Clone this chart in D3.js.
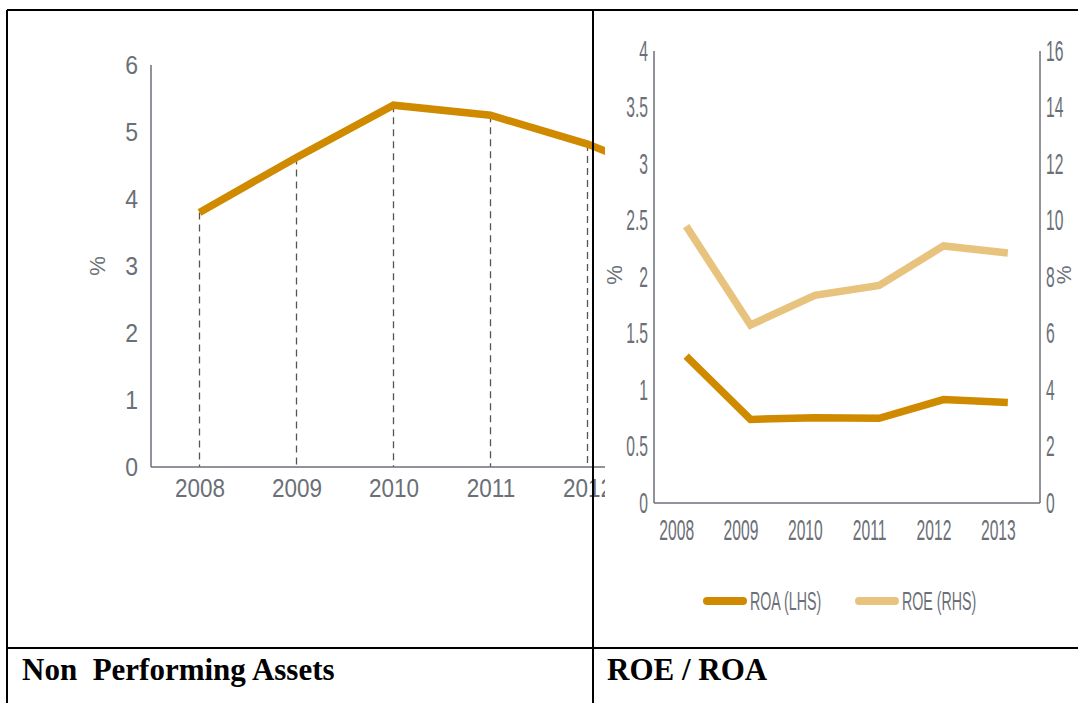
<!DOCTYPE html>
<html>
<head>
<meta charset="utf-8">
<script src="https://cdn.jsdelivr.net/npm/d3@7/dist/d3.min.js"></script>
<style>
  html, body { margin: 0; padding: 0; background: #fff; overflow: hidden; }
  svg { display: block; }
</style>
</head>
<body>
<div id="chart"></div>
<script>
// Data
var npaYears = [2008, 2009, 2010, 2011, 2012, 2013];
var npaValues = [3.8, 4.62, 5.4, 5.25, 4.82, 4.25];
var npaTicks = [0, 1, 2, 3, 4, 5, 6];

var retYears = [2008, 2009, 2010, 2011, 2012, 2013];
var roaValues = [1.3, 0.74, 0.755, 0.75, 0.915, 0.89];
var roeValues = [9.8, 6.3, 7.35, 7.7, 9.1, 8.85];
var roaTicks = [0, 0.5, 1, 1.5, 2, 2.5, 3, 3.5, 4];
var roeTicks = [0, 2, 4, 6, 8, 10, 12, 14, 16];
var legendItems = ["ROA (LHS)", "ROE (RHS)"];
var captions = ["Non  Performing Assets", "ROE / ROA"];

var W = 1078, H = 703;
var gold = "#d08a00", sand = "#e8c37e", grey = "#6b6f77";
var font = "'Liberation Sans', Arial, sans-serif";

var svg = d3.select("#chart").append("svg")
  .attr("width", W)
  .attr("height", H);

// squeeze axis labels sideways to mimic the condensed face
function squeeze(g, sx, size, anchorX) {
  g.selectAll(".domain").remove();
  g.selectAll("text")
    .attr("font-family", font)
    .attr("font-size", size)
    .attr("fill", grey)
    .attr("transform", "scale(" + sx + ",1)");
  if (anchorX !== undefined) g.selectAll("text").attr("x", anchorX / sx);
}

// ---------- left panel: NPA ----------
svg.append("clipPath").attr("id", "leftClip")
  .append("rect").attr("x", 0).attr("y", 0).attr("width", 605).attr("height", 640);

var left = svg.append("g").attr("clip-path", "url(#leftClip)");

var x1 = d3.scalePoint().domain(npaYears).range([151, 733]).padding(0.5);
var y1 = d3.scaleLinear().domain([0, 6]).range([467, 65]);

left.selectAll("line.drop")
  .data(npaYears)
  .join("line")
  .attr("class", "drop")
  .attr("x1", d => x1(d)).attr("x2", d => x1(d))
  .attr("y1", (d, i) => y1(npaValues[i])).attr("y2", y1(0))
  .attr("stroke", "#555")
  .attr("stroke-width", 1.3)
  .attr("stroke-dasharray", "7,5");

left.append("g")
  .attr("transform", "translate(151,0)")
  .call(d3.axisLeft(y1).tickValues(npaTicks).tickSize(0).tickFormat(d => d))
  .call(g => squeeze(g, 0.92, 25, -13));

left.append("g")
  .attr("transform", `translate(0,${y1(0)})`)
  .call(d3.axisBottom(x1).tickSize(0).tickPadding(12))
  .call(g => squeeze(g, 0.9, 25));

left.append("line")
  .attr("x1", 151).attr("x2", 151).attr("y1", y1(6)).attr("y2", y1(0))
  .attr("stroke", grey).attr("stroke-width", 1.5);
left.append("line")
  .attr("x1", 151).attr("x2", 733).attr("y1", y1(0)).attr("y2", y1(0))
  .attr("stroke", grey).attr("stroke-width", 1.5);

left.append("path")
  .datum(npaValues)
  .attr("d", d3.line().x((d, i) => x1(npaYears[i])).y(d => y1(d)))
  .attr("fill", "none")
  .attr("stroke", gold)
  .attr("stroke-width", 7.5);

left.append("text")
  .attr("transform", "translate(105,266) rotate(-90)")
  .attr("text-anchor", "middle")
  .attr("font-family", font).attr("font-size", 22).attr("fill", grey)
  .text("%");

// ---------- right panel: ROE / ROA ----------
var x2 = d3.scalePoint().domain(retYears).range([654, 1040]).padding(0.5);
var yL = d3.scaleLinear().domain([0, 4]).range([503, 51]);
var yR = d3.scaleLinear().domain([0, 16]).range([503, 51]);

var right = svg.append("g");

right.append("g")
  .attr("transform", "translate(654,0)")
  .call(d3.axisLeft(yL).tickValues(roaTicks).tickSize(0).tickFormat(d => d))
  .call(g => squeeze(g, 0.54, 29, -6));

right.append("g")
  .attr("transform", "translate(1040,0)")
  .call(d3.axisRight(yR).tickValues(roeTicks).tickSize(0).tickFormat(d => d))
  .call(g => squeeze(g, 0.54, 29, 6));

right.append("g")
  .attr("transform", `translate(-10,${yL(0)})`)
  .call(d3.axisBottom(x2).tickSize(0).tickPadding(16))
  .call(g => squeeze(g, 0.54, 29));

[[654, 654, yL(4), yL(0)], [1040, 1040, yL(4), yL(0)], [654, 1040, yL(0), yL(0)]].forEach(function (l) {
  right.append("line")
    .attr("x1", l[0]).attr("x2", l[1]).attr("y1", l[2]).attr("y2", l[3])
    .attr("stroke", grey).attr("stroke-width", 1.5);
});

right.append("path")
  .datum(roeValues)
  .attr("d", d3.line().x((d, i) => x2(retYears[i])).y(d => yR(d)))
  .attr("fill", "none")
  .attr("stroke", sand)
  .attr("stroke-width", 7.5);

right.append("path")
  .datum(roaValues)
  .attr("d", d3.line().x((d, i) => x2(retYears[i])).y(d => yL(d)))
  .attr("fill", "none")
  .attr("stroke", gold)
  .attr("stroke-width", 7.5);

right.append("text")
  .attr("transform", "translate(622,275) rotate(-90)")
  .attr("text-anchor", "middle")
  .attr("font-family", font).attr("font-size", 22).attr("fill", grey)
  .text("%");
right.append("text")
  .attr("transform", "translate(1071,275) rotate(-90)")
  .attr("text-anchor", "middle")
  .attr("font-family", font).attr("font-size", 21).attr("fill", grey)
  .text("%");

// legend
var legend = right.selectAll("g.leg")
  .data(legendItems)
  .join("g")
  .attr("class", "leg")
  .attr("transform", (d, i) => `translate(${707 + i * 152},601)`);

legend.append("line")
  .attr("x1", 0).attr("x2", 36).attr("y1", 0).attr("y2", 0)
  .attr("stroke", (d, i) => i === 0 ? gold : sand)
  .attr("stroke-width", 8)
  .attr("stroke-linecap", "round");

legend.append("text")
  .attr("x", 43 / 0.57).attr("y", 9)
  .attr("transform", "scale(0.57,1)")
  .attr("font-family", font).attr("font-size", 25).attr("fill", grey)
  .text(d => d);

// ---------- table frame and captions ----------
var frame = svg.append("g").attr("stroke", "#000").attr("stroke-width", 2);
frame.append("line").attr("x1", 7).attr("x2", W).attr("y1", 10).attr("y2", 10);
frame.append("line").attr("x1", 7).attr("x2", 7).attr("y1", 10).attr("y2", H);
frame.append("line").attr("x1", 593).attr("x2", 593).attr("y1", 10).attr("y2", H);
frame.append("line").attr("x1", 7).attr("x2", W).attr("y1", 648).attr("y2", 648);

svg.selectAll("text.cap")
  .data(captions)
  .join("text")
  .attr("class", "cap")
  .attr("x", (d, i) => i === 0 ? 22 : 607)
  .attr("y", 680)
  .attr("font-family", "'Liberation Serif', 'Times New Roman', serif")
  .attr("font-weight", "bold")
  .attr("font-size", 31)
  .attr("fill", "#000")
  .attr("xml:space", "preserve")
  .style("white-space", "pre")
  .text(d => d);
</script>
</body>
</html>
